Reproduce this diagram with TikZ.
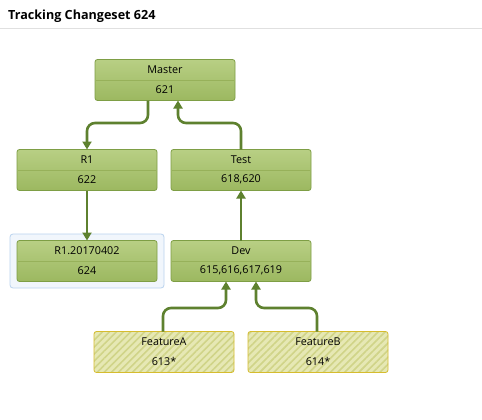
\documentclass[tikz,border=0pt]{standalone}
\usepackage{fontspec}
\setmainfont{Open Sans}
\usetikzlibrary{arrows.meta,patterns.meta,positioning}
\definecolor{gtop}{HTML}{B8CF84}
\definecolor{gbot}{HTML}{9CB860}
\definecolor{gborder}{HTML}{7E9E45}
\definecolor{gdiv}{HTML}{97B15A}
\definecolor{wire}{HTML}{5E812F}
\definecolor{fbase}{HTML}{E6E8B4}
\definecolor{fstripe}{HTML}{D0D488}
\definecolor{fborder}{HTML}{D6BC2E}
\definecolor{hlfill}{HTML}{F1F6FC}
\definecolor{hlborder}{HTML}{BAD3EE}
\tikzset{
  x=1pt, y=-1pt,
  branch/.style={draw=gborder, line width=0.8pt, rounded corners=2.5pt,
    top color=gtop, bottom color=gbot, minimum width=140pt, minimum height=41pt,
    inner sep=0pt, outer sep=0pt},
  feature/.style={draw=fborder, line width=0.8pt, rounded corners=2.5pt,
    preaction={fill=fbase},
    pattern={Lines[angle=45,distance=5pt,line width=1.6pt]}, pattern color=fstripe,
    minimum width=140pt, minimum height=41pt, inner sep=0pt, outer sep=0pt},
  divline/.style={draw=gdiv, line width=0.7pt},
  lbl/.style={font=\fontsize{10.8}{12}\selectfont, inner sep=0pt, text=black},
  wireline/.style={draw=wire, line width=2.6pt, rounded corners=8pt,
    -{Triangle[width=9pt,length=8pt]}},
}
\newcommand\branchtext[3]{%
  \draw[divline] ([xshift=1pt]#1.west) -- ([xshift=-1pt]#1.east);
  \node[lbl] (#1-t) at ([yshift=10pt]#1.center) {#2};
  \node[lbl] (#1-b) at ([yshift=-9.5pt]#1.center) {#3};
}
\newcommand\featuretext[3]{%
  \node[lbl] (#1-t) at ([yshift=10pt]#1.center) {#2};
  \node[lbl] (#1-b) at ([yshift=-9.5pt]#1.center) {#3};
}
\begin{document}
\begin{tikzpicture}
\useasboundingbox (0,0) rectangle (482,420);
\fill[white] (0,0) rectangle (482,420);
% title
\node[anchor=west, inner sep=0pt, font=\fontsize{12.6}{14}\selectfont\bfseries] (title) at (8,16) {Tracking Changeset 624};
\coordinate (rl) at (0,28.5);
\coordinate (rr) at (482,28.5);
\draw[draw=black!12, line width=0.8pt] (rl) -- (rr);
% highlight
\node[draw=hlborder, fill=hlfill, rounded corners=3pt, line width=0.8pt,
  minimum width=154pt, minimum height=54pt, inner sep=0pt] (hl) at (87,261) {};
% branches
\node[branch] (master) at (165,80) {};
\node[branch] (r1) at (87,170) {};
\node[branch] (test) at (241,170) {};
\node[branch] (rel) at (87,261) {};
\node[branch] (dev) at (241,261) {};
\node[feature] (fa) at (164,352) {};
\node[feature] (fb) at (318,352) {};
\branchtext{master}{Master}{621}
\branchtext{r1}{R1}{622}
\branchtext{test}{Test}{618,620}
\branchtext{rel}{R1.20170402}{624}
\branchtext{dev}{Dev}{615,616,617,619}
\featuretext{fa}{FeatureA}{613*}
\featuretext{fb}{FeatureB}{614*}
% connectors
\draw[wireline] (master.south -| 148,0) |- (115,123) -| (r1.north);
\draw[wireline] (test.north) |- (200,123) -| (master.south -| 178,0);
\draw[wireline] (r1.south) -- (rel.north);
\draw[wireline] (dev.north) -- (test.south);
\draw[wireline] (fa.north -| 163,0) |- (195,308) -| (dev.south -| 226,0);
\draw[wireline] (fb.north -| 317,0) |- (285,308) -| (dev.south -| 256,0);
\end{tikzpicture}
\end{document}
